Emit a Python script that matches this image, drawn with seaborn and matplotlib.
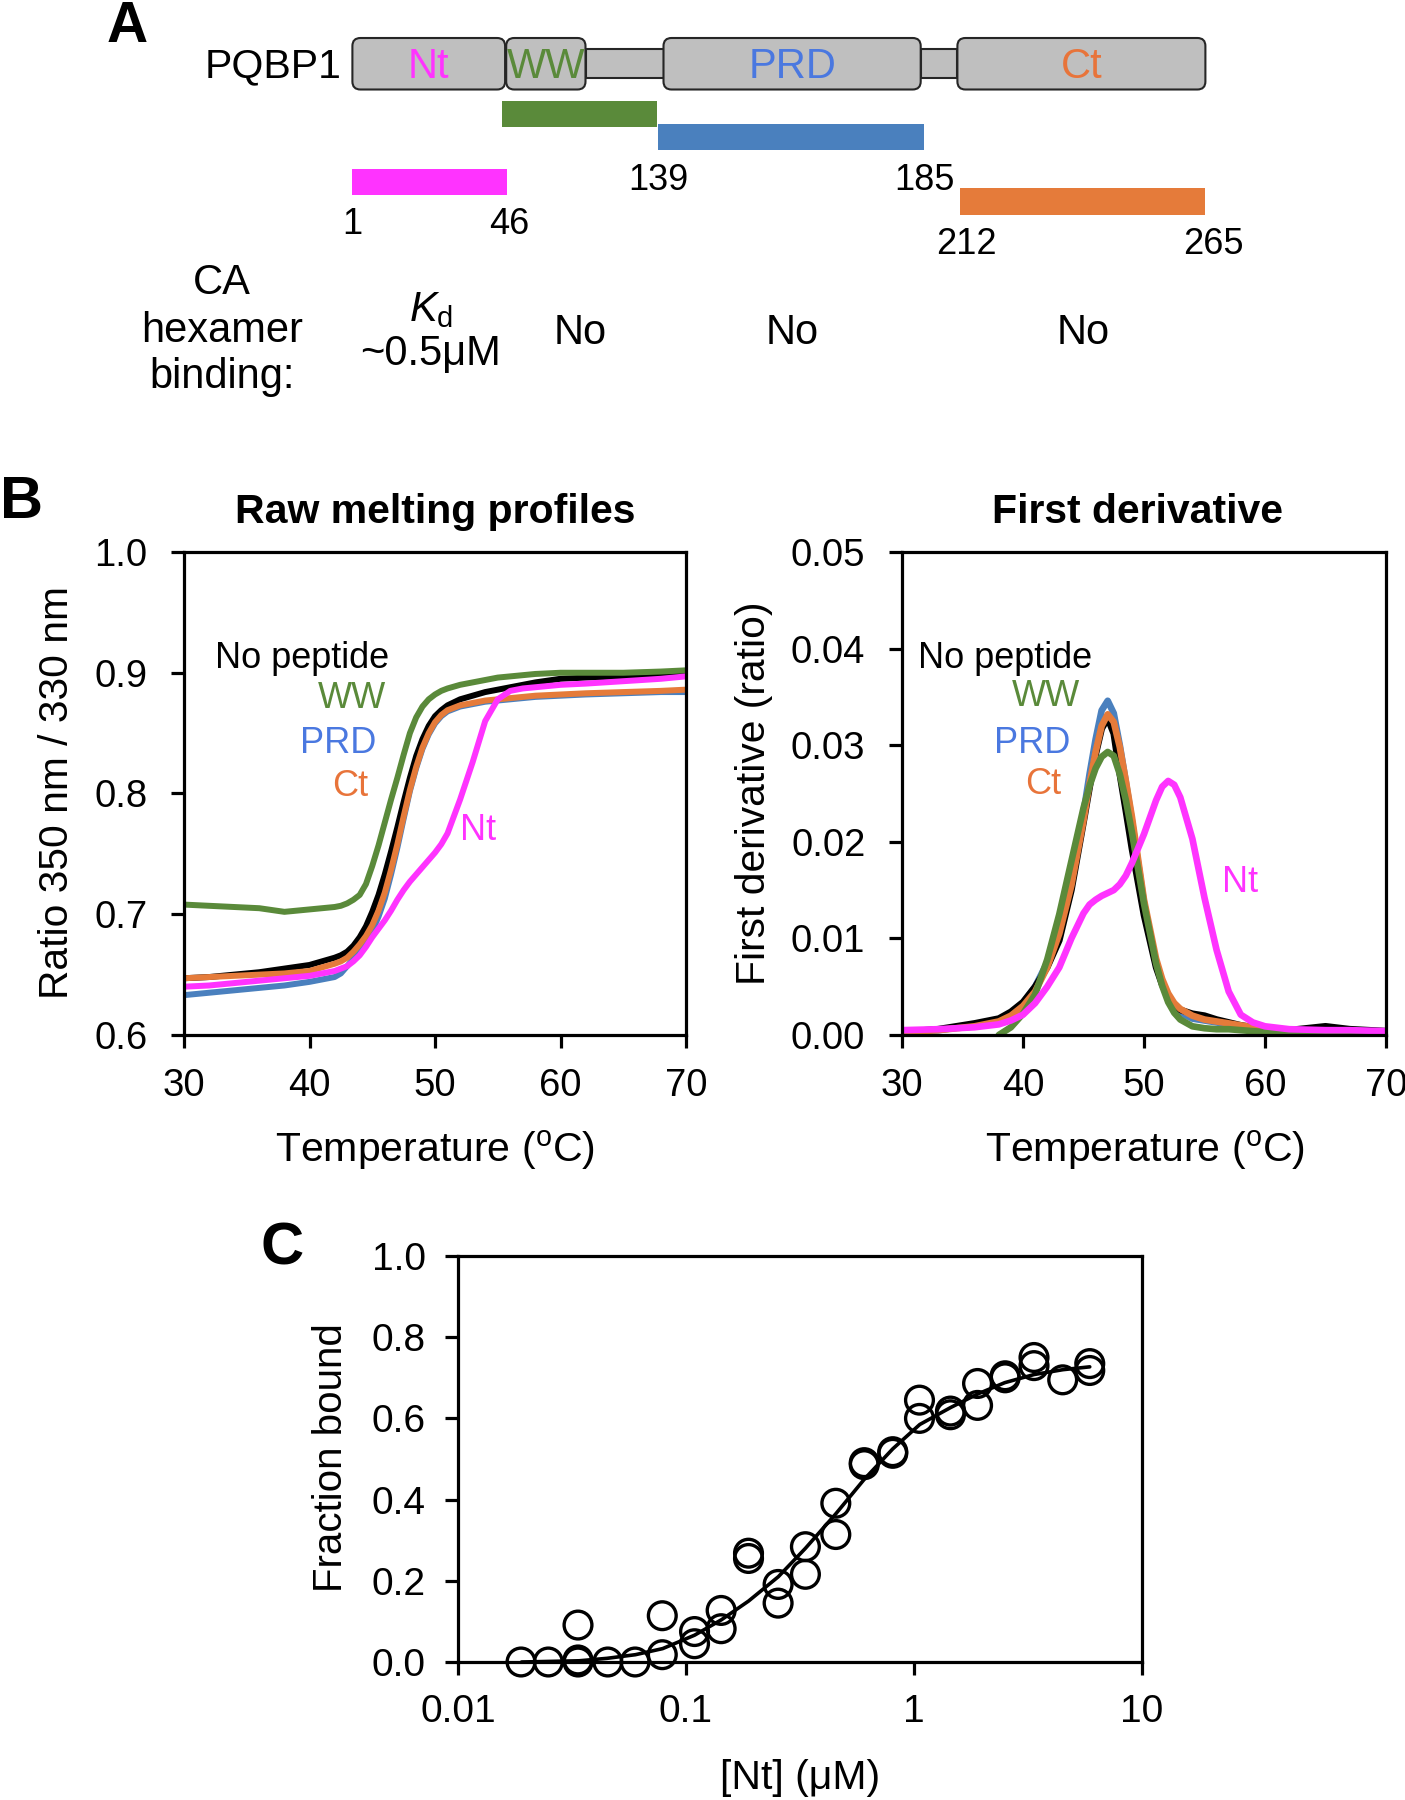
import matplotlib
matplotlib.use("Agg")
import matplotlib.pyplot as plt
from matplotlib.patches import FancyBboxPatch, Rectangle
import numpy as np
import pandas as pd
import seaborn as sns

# ---------------- data ----------------
# Panel B (raw melting profiles)
temp_raw = [30, 32, 34, 36, 38, 40, 41, 42, 42.5, 43, 43.5, 44, 44.5, 45, 45.5, 46, 46.5, 47,
            47.5, 48, 48.5, 49, 49.5, 50, 50.5, 51, 52, 53, 54, 55, 56, 57, 58, 60, 62, 65, 68, 70]
raw_none = [.647, .648, .650, .652, .655, .658, .661, .664, .666, .669, .674, .681, .690, .702,
            .716, .733, .752, .772, .793, .813, .831, .845, .856, .864, .869, .873, .878, .881,
            .884, .886, .888, .890, .892, .895, .896, .897, .898, .898]
raw_ww = [.708, .707, .706, .705, .702, .704, .705, .706, .707, .709, .712, .716, .725, .740,
          .757, .776, .795, .813, .832, .850, .863, .872, .878, .882, .885, .887, .890, .892,
          .894, .896, .897, .898, .899, .900, .900, .900, .901, .902]
raw_prd = [.633, .635, .637, .639, .641, .644, .646, .648, .651, .657, .663, .670, .677, .686,
           .698, .713, .733, .755, .779, .802, .821, .837, .849, .858, .864, .868, .872, .874,
           .876, .877, .878, .879, .880, .881, .882, .883, .884, .884]
raw_ct = [.647, .648, .649, .650, .651, .653, .656, .659, .661, .664, .669, .675, .682, .691,
          .703, .718, .737, .758, .781, .803, .822, .838, .850, .859, .865, .869, .873, .875,
          .877, .878, .879, .880, .881, .882, .883, .884, .885, .886]
raw_nt = [.640, .641, .643, .645, .647, .649, .651, .653, .655, .657, .661, .666, .673, .681,
          .688, .695, .703, .712, .720, .727, .733, .739, .745, .751, .758, .767, .795, .826,
          .860, .878, .885, .887, .888, .890, .891, .893, .895, .897]

# Panel B (first derivative)
temp_der = [30, 33, 36, 38, 39, 40, 41, 42, 43, 44, 45, 45.5, 46, 46.5, 47, 47.5, 48, 48.5, 49,
            50, 51, 51.5, 52, 52.5, 53, 54, 55, 56, 57, 58, 59, 60, 62, 65, 67, 70]
der_none = [.0003, .0006, .0012, .0017, .0024, .0034, .0050, .0070, .0098, .0150, .0220, .0256,
            .0290, .0317, .0328, .0312, .0270, .0232, .0193, .0124, .0070, .0052, .0040, .0031,
            .0026, .0022, .0020, .0016, .0013, .0010, .0008, .0006, .0005, .0009, .0006, .0004]
der_ww = [np.nan, np.nan, np.nan, .0000, .0008, .0022, .0042, .0078, .0125, .0180, .0235, .0258,
          .0276, .0288, .0293, .0289, .0270, .0243, .0210, .0136, .0074, .0051, .0034, .0023,
          .0016, .0009, .0007, .0006, .0006, .0005, .0004, .0003, .0002, .0002, .0002, .0002]
der_prd = [.0003, .0005, .0010, .0016, .0023, .0033, .0050, .0075, .0110, .0160, .0230, .0270,
           .0306, .0336, .0346, .0333, .0300, .0262, .0222, .0137, .0073, .0053, .0038, .0029,
           .0023, .0017, .0015, .0013, .0011, .0009, .0007, .0005, .0004, .0003, .0003, .0003]
der_ct = [.0003, .0005, .0009, .0014, .0020, .0030, .0045, .0070, .0105, .0155, .0222, .0260,
          .0293, .0320, .0332, .0324, .0298, .0263, .0226, .0140, .0079, .0058, .0043, .0033,
          .0027, .0020, .0016, .0014, .0012, .0010, .0008, .0006, .0005, .0004, .0003, .0003]
der_nt = [.0005, .0006, .0008, .0011, .0015, .0021, .0033, .0050, .0070, .0100, .0126, .0135,
          .0140, .0144, .0147, .0150, .0156, .0165, .0178, .0208, .0243, .0257, .0263, .0259,
          .0246, .0203, .0142, .0088, .0045, .0021, .0013, .0009, .0006, .0005, .0005, .0004]

series_names = ["PRD", "No peptide", "Ct", "WW", "Nt"]

# Panel C (binding)
nt_conc = [0.0189, 0.0249, 0.0336, 0.0336, 0.0336, 0.0454, 0.0598, 0.0787, 0.0787, 0.109,
           0.109, 0.1426, 0.1426, 0.188, 0.188, 0.2535, 0.2535, 0.334, 0.334, 0.454, 0.454,
           0.605, 0.605, 0.807, 0.807, 1.057, 1.057, 1.445, 1.445, 1.90, 1.90, 2.51, 2.51,
           3.36, 3.36, 4.49, 5.90, 5.90]
frac_bound = [0.0, 0.0, 0.0, 0.091, 0.005, 0.0, 0.0, 0.018, 0.114, 0.075, 0.045, 0.127, 0.082,
              0.268, 0.255, 0.191, 0.145, 0.284, 0.216, 0.391, 0.314, 0.491, 0.486, 0.514,
              0.518, 0.645, 0.600, 0.618, 0.609, 0.686, 0.632, 0.705, 0.700, 0.750, 0.730,
              0.695, 0.735, 0.718]
fit_conc = [0.019, 0.034, 0.045, 0.060, 0.079, 0.109, 0.143, 0.188, 0.254, 0.334, 0.454,
            0.605, 0.807, 1.06, 1.45, 1.90, 2.50, 3.36, 4.50, 5.90]
fit_frac = [0.0, 0.003, 0.009, 0.018, 0.033, 0.066, 0.104, 0.150, 0.210, 0.280, 0.365,
            0.450, 0.525, 0.585, 0.627, 0.660, 0.688, 0.708, 0.720, 0.727]

temp_ticks = [30, 40, 50, 60, 70]
raw_ticks = [0.6, 0.7, 0.8, 0.9, 1.0]
raw_ticklabels = ["0.6", "0.7", "0.8", "0.9", "1.0"]
der_ticks = [0.0, 0.01, 0.02, 0.03, 0.04, 0.05]
der_ticklabels = ["0.00", "0.01", "0.02", "0.03", "0.04", "0.05"]
conc_ticks = [0.01, 0.1, 1, 10]
conc_ticklabels = ["0.01", "0.1", "1", "10"]
frac_ticks = [0.0, 0.2, 0.4, 0.6, 0.8, 1.0]
frac_ticklabels = ["0.0", "0.2", "0.4", "0.6", "0.8", "1.0"]

# ---------------- style ----------------
sns.set_theme(style="ticks")
plt.rcParams["font.family"] = ["Liberation Sans", "DejaVu Sans"]
plt.rcParams["mathtext.fontset"] = "custom"
plt.rcParams["mathtext.rm"] = "Liberation Sans"
plt.rcParams["mathtext.it"] = "Liberation Sans:italic"
plt.rcParams["mathtext.bf"] = "Liberation Sans:bold"
for k in ["text.color", "axes.labelcolor", "xtick.color", "ytick.color", "axes.edgecolor"]:
    plt.rcParams[k] = "black"

C_MAG = "#FF33FF"
C_GRN = "#5A8A3A"
C_BLU = "#4A80BE"
C_ORG = "#E57B3A"
C_BLK = "#000000"
palette = {"PRD": C_BLU, "No peptide": C_BLK, "Ct": C_ORG, "WW": C_GRN, "Nt": C_MAG}
TXT_GRN = "#5A8A3A"
TXT_BLU = "#4A78E0"
TXT_ORG = "#E8743A"

W, H = 1405, 1800
fig = plt.figure(figsize=(W / 100, H / 100), dpi=100)


def ftext(x, y, s, **kw):
    kw.setdefault("ha", "center")
    kw.setdefault("va", "center")
    kw.setdefault("color", "black")
    fig.text(x / W, 1 - y / H, s, **kw)


def add_ax(x0, y0, x1, y1):
    return fig.add_axes([x0 / W, 1 - y1 / H, (x1 - x0) / W, (y1 - y0) / H])


def style(ax, size=28):
    for sp in ax.spines.values():
        sp.set_visible(True)
        sp.set_linewidth(2.3)
        sp.set_color("black")
    ax.tick_params(direction="out", length=9.4, width=2.3, labelsize=size, colors="black")
    ax.tick_params(axis="y", pad=17)
    ax.tick_params(axis="x", pad=14)
    ax.set_xlabel("")
    ax.set_ylabel("")
    ax.grid(False)


# ---------------- panel A ----------------
axA = fig.add_axes([0, 0, 1, 1], zorder=-5)
axA.set_xlim(0, W)
axA.set_ylim(H, 0)
axA.axis("off")

BOX_FC = "#BFBFBF"
BOX_EC = "#262626"
for x0, x1 in [(585.5, 663.5), (920.7, 957.4)]:
    axA.add_patch(Rectangle((x0, 49.4), x1 - x0, 28.7, fc=BOX_FC, ec=BOX_EC, lw=1.5, zorder=1))
domains = [("Nt", 352.4, 505.1, C_MAG), ("WW", 506.2, 585.5, TXT_GRN),
           ("PRD", 663.5, 920.7, TXT_BLU), ("Ct", 957.4, 1205.4, TXT_ORG)]
for name, x0, x1, col in domains:
    axA.add_patch(FancyBboxPatch((x0, 38), x1 - x0, 51.5,
                                 boxstyle="round,pad=0,rounding_size=8",
                                 fc=BOX_FC, ec=BOX_EC, lw=1.5, zorder=2))
    axA.text((x0 + x1) / 2, 67, name, color=col, fontsize=30, ha="center", va="center",
             zorder=3)
bars = [(501.7, 656.7, 101.0, 127.4, C_GRN), (657.8, 924.1, 124.0, 150.4, C_BLU),
        (352.4, 507.4, 168.8, 195.2, C_MAG), (959.7, 1205.4, 188.3, 214.7, C_ORG)]
for x0, x1, y0, y1, col in bars:
    axA.add_patch(Rectangle((x0, y0), x1 - x0, y1 - y0, fc=col, ec="none", zorder=2))

ftext(127, 27, "A", fontsize=41, fontweight="bold")
ftext(273, 66, "PQBP1", fontsize=29.5)
for s, x, y in [("139", 658, 181), ("185", 924, 181), ("1", 352, 224), ("46", 509, 224),
                ("212", 966, 245), ("265", 1213, 245)]:
    ftext(x, y, s, fontsize=26)
ftext(222, 283, "CA", fontsize=30)
ftext(222, 331, "hexamer", fontsize=30)
ftext(222, 377, "binding:", fontsize=30)
ftext(431, 310, r"$\mathit{K}_{\mathrm{d}}$", fontsize=30)
ftext(431, 354, "~0.5\u03bcM", fontsize=30)
for x in [580, 792, 1083]:
    ftext(x, 333, "No", fontsize=30)

# ---------------- panel B ----------------
raw_df = pd.DataFrame({"T": temp_raw, "PRD": raw_prd, "No peptide": raw_none, "Ct": raw_ct,
                       "WW": raw_ww, "Nt": raw_nt}).melt(id_vars="T", var_name="s",
                                                       value_name="v")
der_df = pd.DataFrame({"T": temp_der, "PRD": der_prd, "No peptide": der_none, "Ct": der_ct,
                       "WW": der_ww, "Nt": der_nt}).melt(id_vars="T", var_name="s",
                                                       value_name="v").dropna()

ax1 = add_ax(184, 552, 686, 1035)
for name in series_names:
    sub = raw_df[raw_df["s"] == name]
    sns.lineplot(data=sub, x="T", y="v", color=palette[name], lw=4.3, ax=ax1,
                 estimator=None, sort=True)
style(ax1, size=27.5)
ax1.set_xlim(30, 70)
ax1.set_ylim(0.6, 1.0)
ax1.set_xticks(temp_ticks)
ax1.set_yticks(raw_ticks)
ax1.set_yticklabels(raw_ticklabels)

ax2 = add_ax(902, 552, 1386, 1035)
for name in series_names:
    sub = der_df[der_df["s"] == name]
    sns.lineplot(data=sub, x="T", y="v", color=palette[name], lw=4.8, ax=ax2,
                 estimator=None, sort=True)
style(ax2, size=27.5)
ax2.set_xlim(30, 70)
ax2.set_ylim(0, 0.05)
ax2.set_xticks(temp_ticks)
ax2.set_yticks(der_ticks)
ax2.set_yticklabels(der_ticklabels)

lab_kw = dict(fontsize=26)
ax1.text(32.5, 0.912, "No peptide", color="black", ha="left", va="center", **lab_kw)
ax1.text(46.1, 0.879, "WW", color=TXT_GRN, ha="right", va="center", **lab_kw)
ax1.text(45.3, 0.841, "PRD", color=TXT_BLU, ha="right", va="center", **lab_kw)
ax1.text(44.7, 0.806, "Ct", color=TXT_ORG, ha="right", va="center", **lab_kw)
ax1.text(53.4, 0.769, "Nt", color=C_MAG, ha="center", va="center", **lab_kw)

ax2.text(31.3, 0.039, "No peptide", color="black", ha="left", va="center", **lab_kw)
ax2.text(44.7, 0.0350, "WW", color=TXT_GRN, ha="right", va="center", **lab_kw)
ax2.text(43.9, 0.0302, "PRD", color=TXT_BLU, ha="right", va="center", **lab_kw)
ax2.text(43.2, 0.0259, "Ct", color=TXT_ORG, ha="right", va="center", **lab_kw)
ax2.text(57.9, 0.0158, "Nt", color=C_MAG, ha="center", va="center", **lab_kw)

ftext(21, 502, "B", fontsize=43, fontweight="bold")
ftext(435, 512, "Raw melting profiles", fontsize=29.5, fontweight="bold")
ftext(1138, 512, "First derivative", fontsize=29.5, fontweight="bold")
ftext(435, 1150, r"Temperature ($^{\mathrm{o}}$C)", fontsize=29.5)
ftext(1145, 1150, r"Temperature ($^{\mathrm{o}}$C)", fontsize=29.5)
ftext(57, 793, "Ratio 350 nm / 330 nm", fontsize=29.3, rotation=90)
ftext(754, 793, "First derivative (ratio)", fontsize=29.3, rotation=90)

# ---------------- panel C ----------------
ax3 = add_ax(458, 1256, 1142, 1662)
sns.lineplot(x=fit_conc, y=fit_frac, color="black", lw=2.6, ax=ax3, estimator=None, sort=True)
sns.scatterplot(x=nt_conc, y=frac_bound, ax=ax3, marker="o", s=400, fc="none", ec="black",
                linewidth=2.4, clip_on=False, zorder=3)
style(ax3, size=28)
ax3.tick_params(axis="y", pad=14)
ax3.set_xscale("log")
ax3.set_xlim(0.01, 10)
ax3.set_ylim(0, 1.0)
ax3.set_xticks(conc_ticks)
ax3.set_xticklabels(conc_ticklabels)
ax3.xaxis.set_minor_locator(matplotlib.ticker.NullLocator())
ax3.set_yticks(frac_ticks)
ax3.set_yticklabels(frac_ticklabels)

ftext(282, 1249, "C", fontsize=43, fontweight="bold")
ftext(331, 1458, "Fraction bound", fontsize=29, rotation=90)
ftext(800, 1778, "[Nt] (\u03bcM)", fontsize=29.5)

fig.savefig("out.png", dpi=100)
